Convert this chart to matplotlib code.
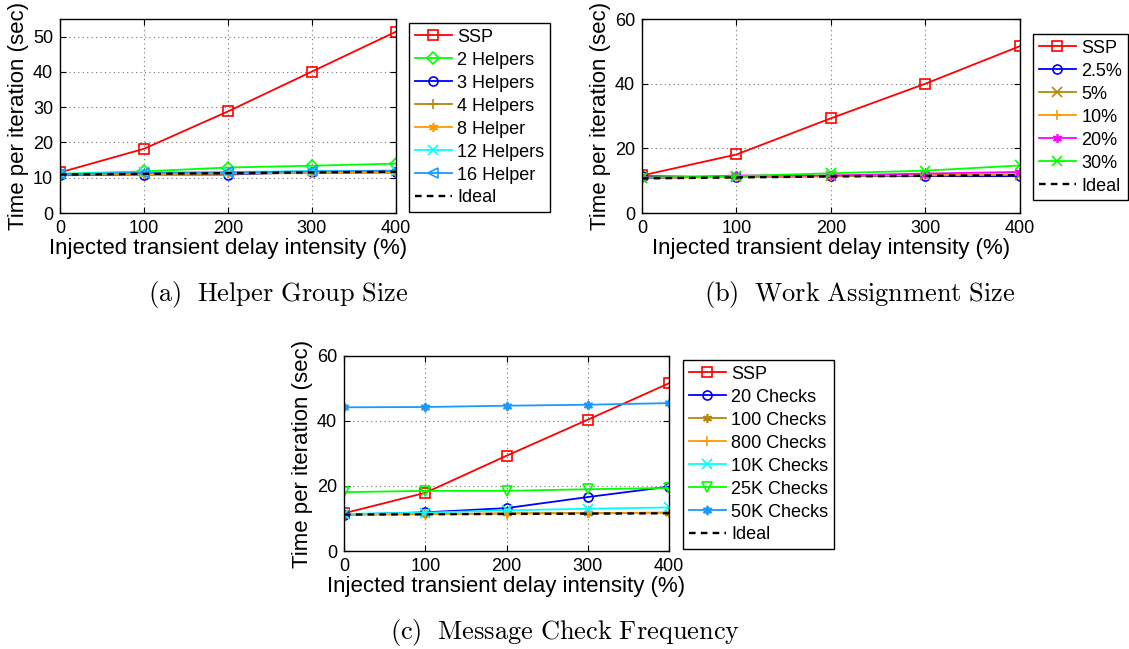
import matplotlib

matplotlib.use("Agg")
import matplotlib.pyplot as plt

plt.rcParams["font.family"] = ["Liberation Sans", "DejaVu Sans"]
plt.rcParams["mathtext.fontset"] = "cm"

# injected delay intensity (%)
intensity = [0, 100, 200, 300, 400]

# (a) helper group size
helper_labels = ["SSP", "2 Helpers", "3 Helpers", "4 Helpers", "8 Helper",
                 "12 Helpers", "16 Helper", "Ideal"]
helper_ssp = [11.5, 18.2, 28.8, 40.1, 51.4]
helper_2 = [11.1, 11.8, 12.9, 13.4, 14.0]
helper_3 = [10.7, 10.9, 10.9, 11.6, 11.7]
helper_4 = [10.9, 11.0, 11.2, 11.3, 11.4]
helper_8 = [10.9, 11.0, 11.2, 11.4, 11.5]
helper_12 = [11.1, 11.5, 11.6, 11.9, 12.0]
helper_16 = [11.0, 11.4, 11.5, 11.8, 12.0]
helper_ideal = [10.9, 11.1, 11.3, 11.5, 11.7]

# (b) work assignment size
work_labels = ["SSP", "2.5%", "5%", "10%", "20%", "30%", "Ideal"]
work_ssp = [11.6, 18.1, 29.3, 40.0, 51.6]
work_2_5 = [11.4, 11.1, 11.4, 11.4, 11.4]
work_5 = [10.9, 11.2, 11.5, 11.6, 11.8]
work_10 = [10.9, 11.1, 11.5, 11.8, 12.0]
work_20 = [10.7, 11.6, 11.6, 12.2, 12.7]
work_30 = [10.9, 11.4, 12.3, 13.1, 14.7]
work_ideal = [10.7, 11.0, 11.3, 11.5, 11.7]

# (c) message check frequency
check_labels = ["SSP", "20 Checks", "100 Checks", "800 Checks", "10K Checks",
                "25K Checks", "50K Checks", "Ideal"]
check_ssp = [11.6, 17.9, 29.3, 40.4, 51.6]
check_20 = [11.2, 11.9, 13.2, 16.6, 19.8]
check_100 = [11.2, 11.3, 11.6, 11.7, 11.8]
check_800 = [11.3, 11.4, 11.5, 11.6, 11.8]
check_10k = [11.4, 11.8, 12.5, 13.0, 13.4]
check_25k = [18.1, 18.5, 18.5, 19.0, 19.4]
check_50k = [44.2, 44.3, 44.7, 45.0, 45.5]
check_ideal = [11.2, 11.3, 11.4, 11.5, 11.6]

RED = (1.0, 0.0, 0.0)
GREEN = (0.0, 1.0, 0.0)
BLUE = (0.0, 0.0, 1.0)
BROWN = (0.72, 0.53, 0.04)
ORANGE = (1.0, 0.6, 0.0)
CYAN = (0.0, 1.0, 1.0)
SKY = (0.1, 0.6, 1.0)
MAGENTA = (1.0, 0.0, 1.0)
ASTER = (6, 2, 0)
HEXSTAR = (6, 1, 0)


def style_axis(axis, ymax, yticks):
    axis.set_xlim(0, 400)
    axis.set_ylim(0, ymax)
    axis.set_xticks(intensity)
    axis.set_yticks(yticks)
    axis.tick_params(direction="in", top=True, right=True, length=4,
                     labelsize=13, pad=5)
    axis.grid(True, linestyle=(0, (1, 3)), color="0.45", linewidth=0.8)
    for spine in axis.spines.values():
        spine.set_linewidth(1.0)
    axis.set_xlabel("Injected transient delay intensity (%)", fontsize=16,
                    labelpad=1)
    axis.set_ylabel("Time per iteration (sec)", fontsize=16, labelpad=3)


def draw(axis, series, labels, styles, anchor):
    for values, label, (color, marker, fill) in zip(series, labels, styles):
        if label == "Ideal":
            axis.plot(intensity, values, color="black", lw=1.7,
                      dashes=(2.8, 2.2), label=label, zorder=5)
            continue
        axis.plot(intensity, values, color=color, marker=marker, lw=1.3,
                  markersize=6.5, markeredgewidth=1.2,
                  markerfacecolor=color if fill else "none", label=label)
    axis.legend(loc="upper left", bbox_to_anchor=anchor,
                bbox_transform=figure.transFigure, borderaxespad=0,
                fontsize=13, handlelength=2.05, handletextpad=0.3,
                labelspacing=0.33, borderpad=0.32, fancybox=False,
                framealpha=1, edgecolor="black")


figure = plt.figure(figsize=(11.29, 6.49), dpi=100)
ax_a = figure.add_axes([0.0531, 0.6718, 0.2976, 0.2989])
ax_b = figure.add_axes([0.5686, 0.6718, 0.3348, 0.2989])
ax_c = figure.add_axes([0.3047, 0.1510, 0.2879, 0.3005])

series_a = [helper_ssp, helper_2, helper_3, helper_4, helper_8, helper_12,
            helper_16, helper_ideal]
series_b = [work_ssp, work_2_5, work_5, work_10, work_20, work_30, work_ideal]
series_c = [check_ssp, check_20, check_100, check_800, check_10k, check_25k,
            check_50k, check_ideal]

styles_a = [(RED, "s", False), (GREEN, "D", False), (BLUE, "o", False),
            (BROWN, "+", True), (ORANGE, ASTER, True), (CYAN, "x", True),
            (SKY, "<", False), (None, None, None)]
styles_b = [(RED, "s", False), (BLUE, "o", False), (BROWN, "x", True),
            (ORANGE, "+", True), (MAGENTA, ASTER, True), (GREEN, "x", True),
            (None, None, None)]
styles_c = [(RED, "s", False), (BLUE, "o", False), (BROWN, ASTER, True),
            (ORANGE, "+", True), (CYAN, "x", True), (GREEN, "v", False),
            (SKY, HEXSTAR, True), (None, None, None)]

style_axis(ax_a, 55, [0, 10, 20, 30, 40, 50])
style_axis(ax_b, 60, [0, 20, 40, 60])
style_axis(ax_c, 60, [0, 20, 40, 60])

draw(ax_a, series_a, helper_labels, styles_a, (409 / 1129, 1 - 23 / 649))
draw(ax_b, series_b, work_labels, styles_b, (1033 / 1129, 1 - 34 / 649))
draw(ax_c, series_c, check_labels, styles_c, (683 / 1129, 1 - 360 / 649))

figure.text(278 / 1129, 1 - 295 / 649,
            r"$\mathrm{(a)\ \ Helper\ Group\ Size}$",
            ha="center", va="center", fontsize=19)
figure.text(860 / 1129, 1 - 295 / 649,
            r"$\mathrm{(b)\ \ Work\ Assignment\ Size}$",
            ha="center", va="center", fontsize=19)
figure.text(565 / 1129, 1 - 632 / 649,
            r"$\mathrm{(c)\ \ Message\ Check\ Frequency}$",
            ha="center", va="center", fontsize=19)

figure.savefig("out.png", dpi=100)
plt.close(figure)
